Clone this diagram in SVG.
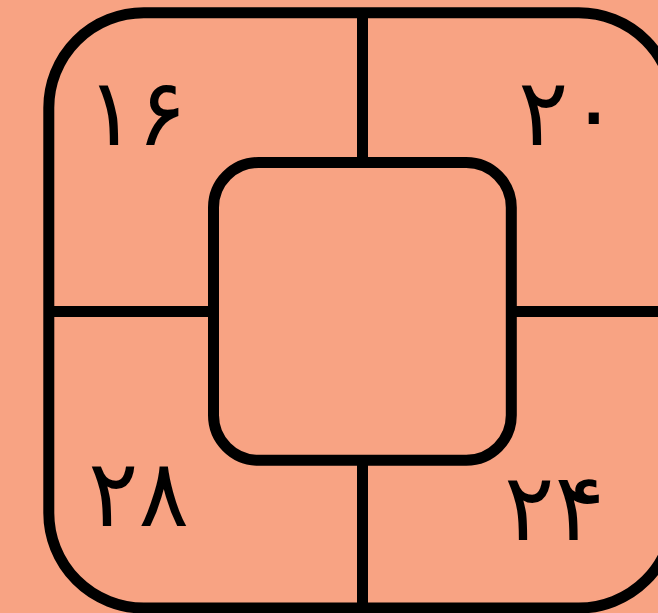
<svg xmlns="http://www.w3.org/2000/svg" width="658" height="613" viewBox="0 0 658 613">
<style>
.frame{fill:none;stroke:#000;stroke-width:11}
.lbl{font-family:"DejaVu Sans",sans-serif;font-size:94px;fill:#000;letter-spacing:8px}
</style>
<rect width="658" height="613" fill="#F8A383"/>
<g id="outer"><rect class="frame" x="48.8" y="12.8" width="625" height="595.2" rx="95" ry="95"/></g>
<g id="center"><rect class="frame" x="213.5" y="162.5" width="297.8" height="297.8" rx="45" ry="45"/></g>
<g id="connectors">
<line class="frame" x1="362.5" y1="12.8" x2="362.5" y2="162.5"/>
<line class="frame" x1="362.5" y1="460.3" x2="362.5" y2="608"/>
<line class="frame" x1="48.8" y1="311.5" x2="213.5" y2="311.5"/>
<line class="frame" x1="511.3" y1="311.5" x2="674" y2="311.5"/>
</g>
<g id="q16"><text class="lbl" x="86" y="145">۱۶</text></g>
<g id="q20"><text class="lbl" x="518" y="145">۲۰</text></g>
<g id="q28"><text class="lbl" x="88" y="526">۲۸</text></g>
<g id="q24"><text class="lbl" x="504" y="540">۲۴</text></g>
</svg>
